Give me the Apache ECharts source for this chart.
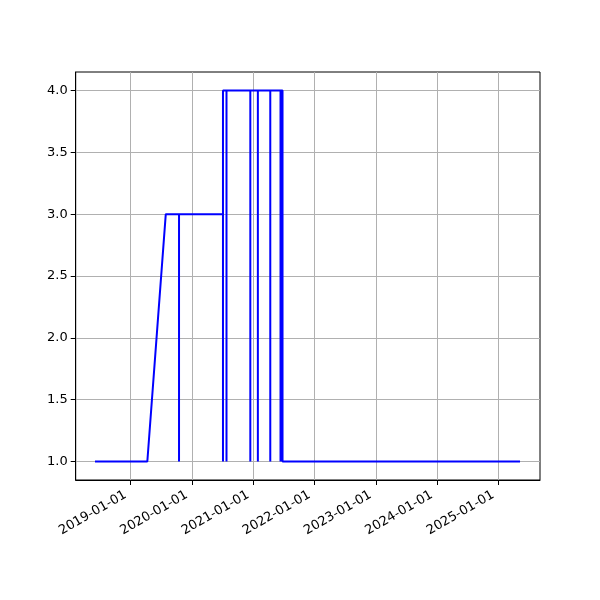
<!DOCTYPE html>
<html>
<head>
<meta charset="utf-8">
<script src="https://cdn.jsdelivr.net/npm/echarts@6/dist/echarts.min.js"></script>
<style>html,body{margin:0;padding:0;background:#fff}#c{width:600px;height:600px}</style>
</head>
<body>
<div id="c"></div>
<script>
const dates = [
  '2018-06-02','2019-04-10','2019-07-29',
  '2019-10-16','2019-10-16','2019-10-16',
  '2020-07-04','2020-07-04','2020-07-04',
  '2020-07-25','2020-07-25','2020-07-25',
  '2020-12-14','2020-12-14','2020-12-14',
  '2021-01-28','2021-01-28','2021-01-28',
  '2021-04-12','2021-04-12','2021-04-12',
  '2021-06-12','2021-06-12','2021-06-12',
  '2021-06-24','2021-06-24',
  '2025-05-10'
];
const values = [
  1,1,3,
  3,1,3,
  3,1,4,
  4,1,4,
  4,1,4,
  4,1,4,
  4,1,4,
  4,1,4,
  4,1,
  1
];
const xTicks = ['2019-01-01','2020-01-01','2021-01-01','2022-01-01','2023-01-01','2024-01-01','2025-01-01'];
const yTicks = [1.0,1.5,2.0,2.5,3.0,3.5,4.0];

const ts = s => new Date(s + 'T00:00:00Z').getTime();
const chart = echarts.init(document.getElementById('c'), null, {renderer:'canvas'});
const font = 'DejaVu Sans';
const fmtDate = v => {const d=new Date(v);const p=n=>String(n).padStart(2,'0');return d.getUTCFullYear()+'-'+p(d.getUTCMonth()+1)+'-'+p(d.getUTCDate());};
chart.setOption({
  animation:false,
  grid:{left:75.7,right:60,top:72,bottom:120,show:true,borderColor:'#000',borderWidth:1,backgroundColor:'transparent'},
  xAxis:{
    type:'value',
    min:ts('2018-02-07'), max:ts('2025-09-06'),
    axisLine:{show:true,lineStyle:{color:'#000',width:1}},
    axisTick:{show:true,length:5,lineStyle:{color:'#000'},customValues:xTicks.map(ts)},
    axisLabel:{customValues:xTicks.map(ts),rotate:30,color:'#000',fontFamily:font,fontSize:13,margin:11,padding:[0,6,0,0],formatter:fmtDate},
    splitLine:{show:true,lineStyle:{color:'#b0b0b0',width:1}}
  },
  yAxis:{
    type:'value',min:0.85,max:4.15,
    axisLine:{show:true,lineStyle:{color:'#000',width:1}},
    axisTick:{show:true,length:5,lineStyle:{color:'#000'},customValues:yTicks},
    axisLabel:{customValues:yTicks,color:'#000',fontFamily:font,fontSize:13,margin:8,formatter:v=>Number(v).toFixed(1)},
    splitLine:{show:true,lineStyle:{color:'#b0b0b0',width:1}}
  },
  series:[{
    type:'line',
    data:dates.map((d,i)=>[ts(d),values[i]]),
    showSymbol:false,
    lineStyle:{color:'#0000ff',width:2},
    itemStyle:{color:'#0000ff'}
  }]
});
</script>
</body>
</html>
